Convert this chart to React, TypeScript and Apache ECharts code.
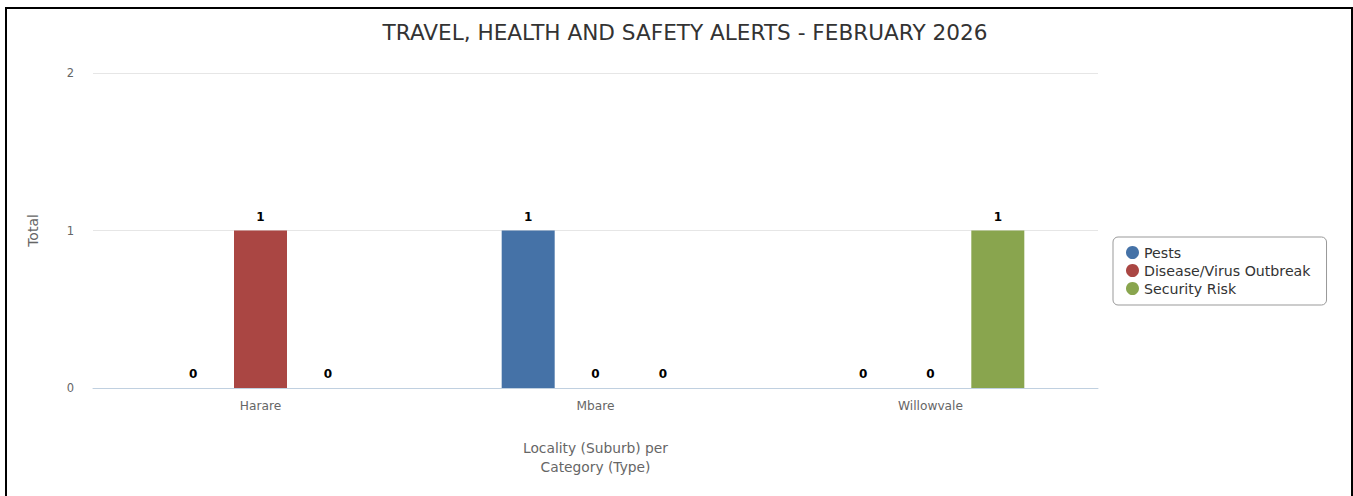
import React, { useEffect, useRef } from "react";
import * as echarts from "echarts";

const categories = ["Harare", "Mbare", "Willowvale"];
const seriesNames = ["Pests", "Disease/Virus Outbreak", "Security Risk"];
const pests = [0, 1, 0];
const disease = [1, 0, 0];
const security = [0, 0, 1];
const colors = ["#4572A7", "#AA4643", "#89A54E"];
const yTicks = { min: 0, max: 2, interval: 1 };

const FONT = "DejaVu Sans";

export default function App() {
  const ref = useRef<HTMLDivElement>(null);
  useEffect(() => {
    if (!ref.current) return;
    const chart = echarts.init(ref.current, null, { renderer: "svg" });
    const values = [pests, disease, security];
    chart.setOption({
      animation: false,
      color: colors,
      textStyle: { fontFamily: FONT },
      title: {
        text: "TRAVEL, HEALTH AND SAFETY ALERTS - FEBRUARY 2026",
        left: 680,
        textAlign: "center",
        top: 16,
        textStyle: { fontFamily: FONT, fontSize: 21.6, fontWeight: "normal", color: "#333333" },
      },
      graphic: [
        {
          type: "rect",
          shape: { x: 6, y: 8, width: 1346, height: 600 },
          style: { fill: "none", stroke: "#000", lineWidth: 2 },
          silent: true,
        },
      ],
      legend: {
        orient: "vertical",
        left: 1113,
        top: 237,
        icon: "circle",
        itemWidth: 13,
        itemHeight: 13,
        itemGap: 1,
        padding: [7, 16, 8, 13],
        borderColor: "#999999",
        borderWidth: 1,
        borderRadius: 5,
        textStyle: { fontFamily: FONT, fontSize: 14.2, lineHeight: 17, color: "#333333" },
        data: seriesNames,
      },
      grid: { left: 93, right: 255, top: 73, bottom: 108, containLabel: false },
      xAxis: {
        type: "category",
        data: categories,
        axisLine: { lineStyle: { color: "#C0D0E0" } },
        axisTick: { show: false },
        axisLabel: { color: "#666666", fontSize: 12.2, margin: 12, fontFamily: FONT },
        name: "Locality (Suburb) per\nCategory (Type)",
        nameLocation: "middle",
        nameGap: 50,
        nameTextStyle: { color: "#666666", fontSize: 13.8, lineHeight: 19, fontFamily: FONT },
      },
      yAxis: {
        type: "value",
        min: yTicks.min,
        max: yTicks.max,
        interval: yTicks.interval,
        axisLabel: { color: "#666666", fontSize: 11.5, margin: 19, fontFamily: FONT },
        splitLine: { lineStyle: { color: "#E6E6E6" } },
        name: "Total",
        nameLocation: "middle",
        nameGap: 53,
        nameTextStyle: { color: "#666666", fontSize: 14, fontFamily: FONT },
      },
      series: seriesNames.map((n, i) => ({
        name: n,
        type: "bar",
        data: values[i],
        barWidth: 53,
        barGap: "27%",
        label: {
          show: true,
          position: "top",
          distance: 8,
          color: "#000000",
          fontWeight: "bold",
          fontSize: 12,
          fontFamily: FONT,
        },
      })),
    });
    return () => chart.dispose();
  }, []);
  return (
    <div
      ref={ref}
      style={{ position: "absolute", left: 0, top: 0, width: 1353, height: 496, background: "#fff" }}
    />
  );
}
